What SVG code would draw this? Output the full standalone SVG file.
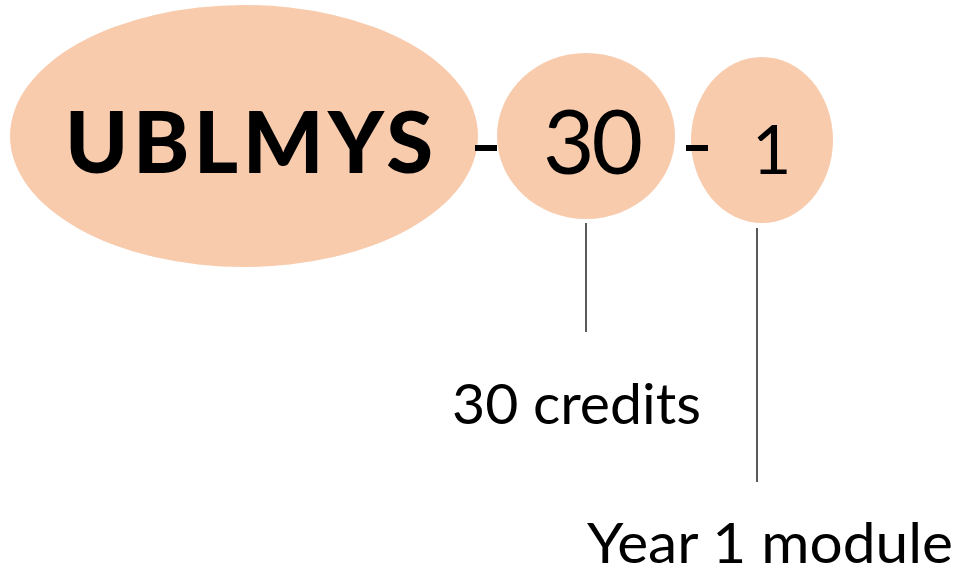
<svg xmlns="http://www.w3.org/2000/svg" width="958" height="575" viewBox="0 0 958 575">
  <style>
    .bubble { fill: #F8CBAD; stroke: none; }
    .code { font-family: Lato, "Open Sans", "Liberation Sans", sans-serif; fill: #000; }
    .note { font-family: Lato, "Open Sans", "Liberation Sans", sans-serif; fill: #000; font-size: 57px; }
    .lead { stroke: #000; stroke-width: 1.3; fill: none; }
    .dash { stroke: #000; stroke-width: 6; }
  </style>
  <rect width="958" height="575" fill="#fff"/>

  <g id="prefix">
    <ellipse class="bubble" cx="244" cy="136" rx="234" ry="131"/>
    <text class="code" x="65" y="173" font-size="85" font-weight="900" textLength="368" lengthAdjust="spacing">UBLMYS</text>
  </g>

  <g id="credits">
    <ellipse class="bubble" cx="586" cy="136" rx="89" ry="83"/>
    <text class="code" x="543" y="174" font-size="89" textLength="100" lengthAdjust="spacing">30</text>
  </g>

  <g id="year">
    <ellipse class="bubble" cx="762" cy="140" rx="71" ry="83"/>
    <text class="code" x="752" y="174" font-size="68">1</text>
  </g>

  <g id="connectors">
    <line class="dash" x1="475" y1="148" x2="497" y2="148"/>
    <line class="dash" x1="686" y1="148" x2="708" y2="148"/>
    <line class="lead" x1="586" y1="223" x2="586" y2="332"/>
    <line class="lead" x1="757" y1="228" x2="757" y2="482"/>
  </g>

  <g id="credits-label">
    <text class="note" x="452" y="424" textLength="249" lengthAdjust="spacingAndGlyphs">30 credits</text>
  </g>

  <g id="year-label">
    <text class="note" x="587" y="563" textLength="366" lengthAdjust="spacingAndGlyphs">Year 1 module</text>
  </g>
</svg>
